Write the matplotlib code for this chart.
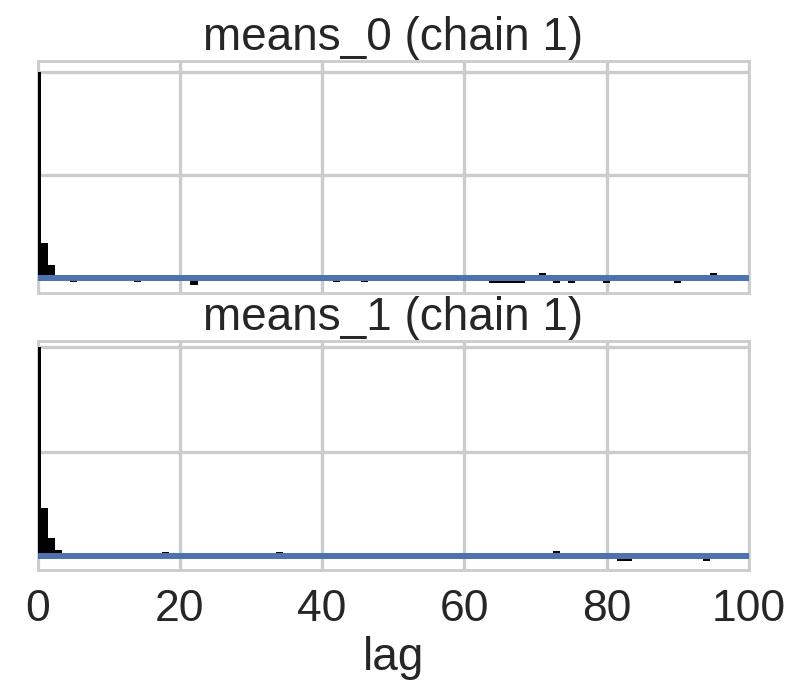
import matplotlib
matplotlib.use("Agg")
import matplotlib.pyplot as plt
import seaborn as sns

sns.set_style("whitegrid")
plt.rcParams['font.family'] = ['Liberation Sans', 'DejaVu Sans']

# autocorrelation at selected lags (the rest sit on zero)
lags_0 = [0, 1, 2, 3, 5, 14, 22, 42, 46, 64, 65, 66, 67, 68, 71, 73, 75, 80, 90, 95]
acf_0 = [1.0, 0.17, 0.063, 0.012, -0.02, -0.02, -0.035, -0.02, -0.02,
         -0.025, -0.025, -0.025, -0.025, -0.025, 0.025, -0.025, -0.025, -0.025, -0.025, 0.025]

lags_1 = [0, 1, 2, 3, 18, 34, 73, 82, 83, 94]
acf_1 = [1.0, 0.23, 0.086, 0.03, 0.02, 0.02, 0.025, -0.025, -0.025, -0.025]

titles = ["means_0 (chain 1)", "means_1 (chain 1)"]
max_lag = 100

fig = plt.figure(figsize=(7.93, 6.91), dpi=100)
ax1 = fig.add_axes([0.0473, 0.5767, 0.8972, 0.3350])
ax2 = fig.add_axes([0.0473, 0.1751, 0.8972, 0.3314])

for ax, lags, acf, title, ylim in [(ax1, lags_0, acf_0, titles[0], (-0.070, 1.053)),
                                    (ax2, lags_1, acf_1, titles[1], (-0.067, 1.03))]:
    ax.bar(lags, acf, width=1.0, color='black', linewidth=0, zorder=2.6)
    ax.axhline(0, color='#4c72b0', lw=4.3, zorder=3)
    ax.set_xlim(0, max_lag)
    ax.set_ylim(*ylim)
    ax.set_yticks([0, 0.5, 1.0])
    ax.set_yticklabels([])
    ax.set_xticks([0, 20, 40, 60, 80, 100])
    ax.grid(True, color='#cccccc', lw=2.4)
    ax.tick_params(length=0)
    for s in ax.spines.values():
        s.set_color('#cccccc')
        s.set_linewidth(2)
    ax.set_title(title, fontsize=33, color='#262626', pad=8)

ax1.set_xticklabels([])
ax2.tick_params(axis='x', labelsize=32, labelcolor='#262626', pad=14)
ax2.set_xlabel("lag", fontsize=33, color='#262626', labelpad=4)

fig.savefig("out.png", dpi=100)
